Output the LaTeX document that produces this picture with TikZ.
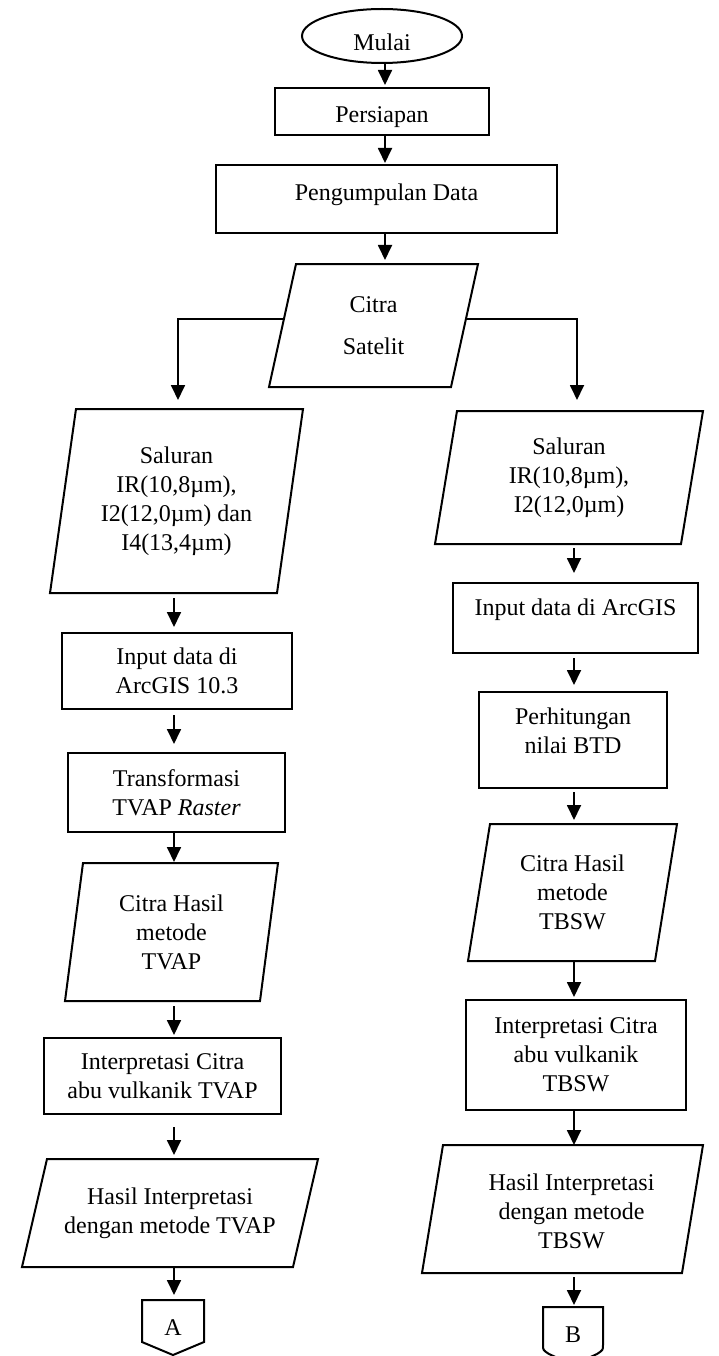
\documentclass[tikz,border=0pt]{standalone}
\usepackage{fontspec}
\setmainfont{Liberation Serif}
\usetikzlibrary{arrows.meta,calc,shapes.geometric}
\newcommand\fsz{\fontsize{24}{29}\selectfont}
\newcommand\mvtext[3]{\raisebox{#2}[\height][\depth]{\rlap{\hspace*{#1}\begin{tabular}{@{}c@{}}#3\end{tabular}}\phantom{\begin{tabular}{@{}c@{}}#3\end{tabular}}}}
\newcommand\para[2]{\draw[shp] ([xshift=#2]#1.north west) -- (#1.north east) -- ([xshift=-#2]#1.south east) -- (#1.south west) -- cycle;}
\begin{document}
\begin{tikzpicture}[x=1pt,y=-1pt,
 shp/.style={line width=2pt, line join=miter},
 box/.style={draw, line width=2pt, rectangle, inner sep=0pt, outer sep=0pt, align=center, font=\fsz},
 para/.style={rectangle, inner sep=0pt, outer sep=0pt, align=center, font=\fsz},
 arr/.style={line width=1.8pt, -{Triangle[width=14pt,length=15pt]}}]
\useasboundingbox (0,0) rectangle (719,1356);
\fill[white] (0,0) rectangle (719,1356);

% top
\node[draw, ellipse, line width=2pt, minimum width=160pt, minimum height=54pt, inner sep=0pt, outer sep=0pt, font=\fsz] (mulai) at (382,36) {\mvtext{0pt}{-9pt}{Mulai}};
\node[box, minimum width=214pt, minimum height=47pt] (persiapan) at (382,111.5) {\mvtext{0pt}{-5pt}{Persiapan}};
\node[box, minimum width=341pt, minimum height=68pt] (kumpul) at (386.5,199) {\mvtext{0pt}{4pt}{Pengumpulan Data}};
\node[para, minimum width=209pt, minimum height=123pt] (citra) at (373.5,325.5) {Citra\\[13pt]Satelit};
\para{citra}{27pt}

% left column
\node[para, minimum width=253pt, minimum height=184pt] (salL) at (176.5,501) {Saluran\\IR(10,8µm),\\I2(12,0µm) dan\\I4(13,4µm)};
\para{salL}{26pt}
\node[box, minimum width=230pt, minimum height=76pt] (inL) at (177,671) {Input data di\\ArcGIS 10.3};
\node[box, minimum width=217pt, minimum height=79pt] (trans) at (176.5,792.5) {Transformasi\\TVAP \textit{Raster}};
\node[para, minimum width=213pt, minimum height=138pt] (hasilcL) at (171.5,932) {Citra Hasil\\metode\\TVAP};
\para{hasilcL}{18pt}
\node[box, minimum width=237pt, minimum height=76pt] (intL) at (162.5,1076) {Interpretasi Citra\\abu vulkanik TVAP};
\node[para, minimum width=296pt, minimum height=108pt] (hasilL) at (170,1213) {Hasil Interpretasi\\dengan metode TVAP};
\para{hasilL}{25pt}
\node[para, minimum width=62pt, minimum height=55pt] (A) at (173,1327.5) {A};
\draw[shp] (A.north west) -- (A.north east) -- ([yshift=13pt]A.south east) -- (A.south) -- ([yshift=13pt]A.south west) -- cycle;

% right column
\node[para, minimum width=268pt, minimum height=133pt] (salR) at (569,477.5) {Saluran\\IR(10,8µm),\\I2(12,0µm)};
\para{salR}{22pt}
\node[box, minimum width=245pt, minimum height=70pt] (inR) at (575.5,618) {\mvtext{0pt}{8pt}{Input data di ArcGIS}};
\node[box, minimum width=188pt, minimum height=96pt] (hitung) at (573,740) {\mvtext{0pt}{7pt}{Perhitungan\\nilai BTD}};
\node[para, minimum width=209pt, minimum height=137pt] (hasilcR) at (572.5,892.5) {Citra Hasil\\metode\\TBSW};
\para{hasilcR}{22pt}
\node[box, minimum width=220pt, minimum height=110pt] (intR) at (576,1055) {Interpretasi Citra\\abu vulkanik\\TBSW};
\node[para, minimum width=281pt, minimum height=128pt] (hasilR) at (562.5,1209) {\mvtext{9pt}{-5pt}{Hasil Interpretasi\\dengan metode\\TBSW}};
\para{hasilR}{21pt}
\node[para, minimum width=60pt, minimum height=55pt] (B) at (573,1334.5) {B};
\draw[shp] ($(B.north east)+(0,38)$) -- (B.north east) -- (B.north west) -- ($(B.north west)+(0,38)$) .. controls ($(B.north west)+(0,43)$) .. ($(B.north west)+(6,47)$) -- ($(B.north west)+(30,58)$) -- ($(B.north east)+(-6,47)$) .. controls ($(B.north east)+(0,43)$) .. ($(B.north east)+(0,38)$);

% connectors
\coordinate (Tx) at (385,0);
\coordinate (Lx) at (174,0);
\coordinate (Rx) at (574,0);
\draw[arr, shorten >=3pt] (mulai.south -| Tx) -- (persiapan.north -| Tx);
\draw[arr, shorten >=2pt] (persiapan.south -| Tx) -- (kumpul.north -| Tx);
\draw[arr, shorten >=4pt] (kumpul.south -| Tx) -- (citra.north -| Tx);
\draw[arr, shorten >=9pt] ([xshift=15.5pt,yshift=6.5pt]citra.west) -| ([xshift=1.5pt]salL.north);
\draw[arr, shorten >=11pt] ([xshift=-11.6pt,yshift=6.5pt]citra.east) -| ([xshift=8pt]salR.north);

\draw[arr, shorten <=5pt, shorten >=6pt] (salL.south -| Lx) -- (inL.north -| Lx);
\draw[arr, shorten <=6pt, shorten >=9pt] (inL.south -| Lx) -- (trans.north -| Lx);
\draw[arr, shorten >=1pt] (trans.south -| Lx) -- (hasilcL.north -| Lx);
\draw[arr, shorten <=5pt, shorten >=3pt] (hasilcL.south -| Lx) -- (intL.north -| Lx);
\draw[arr, shorten <=13pt, shorten >=4pt] (intL.south -| Lx) -- (hasilL.north -| Lx);
\draw[arr, shorten >=5pt] (hasilL.south -| Lx) -- (A.north -| Lx);

\draw[arr, shorten <=4pt, shorten >=10pt] (salR.south -| Rx) -- (inR.north -| Rx);
\draw[arr, shorten <=5pt, shorten >=7pt] (inR.south -| Rx) -- (hitung.north -| Rx);
\draw[arr, shorten <=4pt, shorten >=4pt] (hitung.south -| Rx) -- (hasilcR.north -| Rx);
\draw[arr, shorten >=3pt] (hasilcR.south -| Rx) -- (intR.north -| Rx);
\draw[arr] (intR.south -| Rx) -- (hasilR.north -| Rx);
\draw[arr, shorten <=4pt, shorten >=2pt] (hasilR.south -| Rx) -- (B.north -| Rx);
\end{tikzpicture}
\end{document}
